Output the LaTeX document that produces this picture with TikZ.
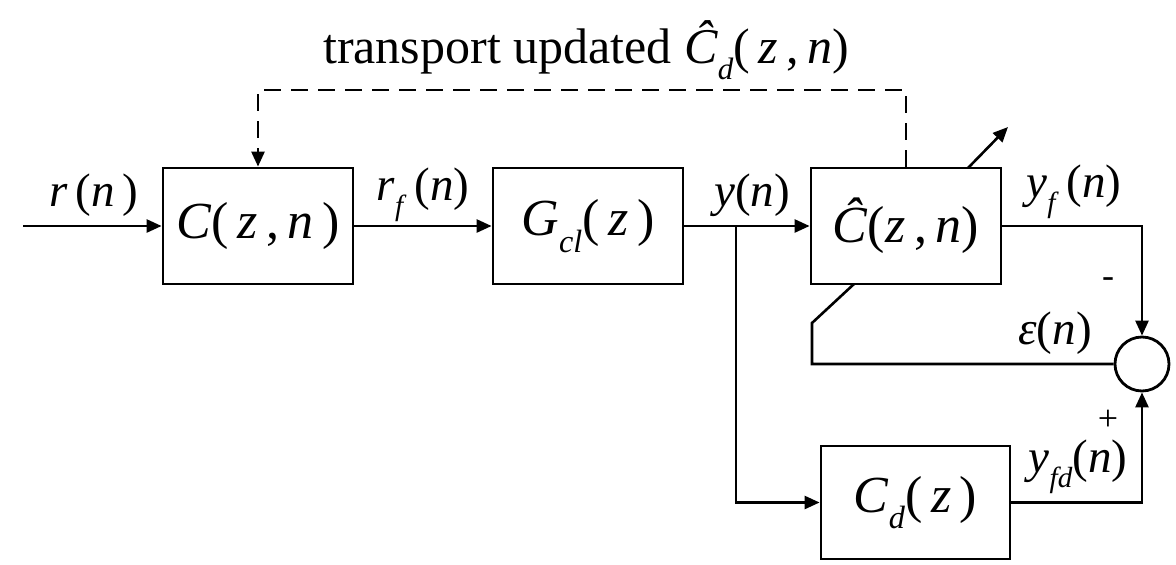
\documentclass[tikz,border=0pt]{standalone}
\usepackage{fontspec}
\setmainfont{Liberation Serif}
\usetikzlibrary{arrows.meta}
\newcommand\sbs[1]{\raisebox{-0.32em}{\fontsize{0.62em}{0.62em}\selectfont #1}}
\newcommand\iv[1]{\textit{#1}}
\begin{document}
\begin{tikzpicture}[x=1pt,y=-1pt,
  blk/.style={draw, line width=2.8pt, minimum width=190pt, minimum height=116pt, inner sep=0pt, font=\fontsize{52}{52}\selectfont},
  sig/.style={line width=2.6pt, -{Triangle[length=15pt,width=13pt]}},
  wire/.style={line width=2.6pt},
  lbl/.style={font=\fontsize{47}{47}\selectfont, inner sep=0pt},
  sgn/.style={font=\fontsize{36}{36}\selectfont, inner sep=0pt}]
\useasboundingbox (0,0) rectangle (1176,565);
% blocks
\node[blk] (C) at (258,226) {\iv{C}(\,\iv{z}\,,\,\iv{n}\,)};
\node[blk] (G) at (588,226) {\iv{G}\sbs{\iv{cl}}(\,\iv{z}\,)};
\node[blk] (Ch) at (906,226) {\iv{\^{C}}(\iv{z}\,,\,\iv{n})};
\node[blk, minimum width=189pt, minimum height=113pt] (Cd) at (915.5,502.5) {\iv{C}\sbs{\iv{d}}(\,\iv{z}\,)};
\node[draw, circle, line width=2.8pt, minimum size=54pt, inner sep=0pt] (sum) at (1142,364) {};
% coordinates
\coordinate (in) at (23,226);
\coordinate (br) at (736,226);
\coordinate (dr) at (906,90);
\coordinate (e1) at (812,364);
\coordinate (e2) at (812,323);
\coordinate (e3) at (854,284);
\coordinate (a1) at (968,168);
\coordinate (a2) at (1008,127);
% signals
\draw[sig] (in) -- (C.west);
\draw[sig] (C.east) -- (G.west);
\draw[sig] (G.east) -- (Ch.west);
\draw[sig] (br) |- (Cd.west);
\draw[sig] (Ch.east) -| (sum.north);
\draw[sig] (Cd.east) -| (sum.south);
\draw[wire] (sum.west) -- (e1) -- (e2) -- (e3);
\draw[sig] (a1) -- (a2);
\draw[line width=2.6pt, dash pattern=on 17pt off 10pt, -{Triangle[length=15pt,width=13pt]}] (Ch.north) -- (dr) -| (C.north);
% labels
\node[lbl] (lr) at (94,195) {\iv{r}\,(\iv{n}\,)};
\node[lbl] (lrf) at (423,195) {\iv{r}\sbs{\iv{f}}\,(\iv{n})};
\node[lbl] (ly) at (752,195) {\iv{y}(\iv{n})};
\node[lbl] (lyf) at (1074,192) {\iv{y}\sbs{\iv{f}}\,(\iv{n})};
\node[lbl] (le) at (1055,333) {\iv{ε}(\iv{n})};
\node[lbl] (lyfd) at (1078,467) {\iv{y}\sbs{\iv{fd}}(\iv{n})};
\node[sgn] (minus) at (1108,283) {-};
\node[sgn] (plus) at (1108,420) {+};
\node[font=\fontsize{50}{50}\selectfont, inner sep=0pt] (title) at (586,50) {transport updated \iv{\^{C}}\sbs{\iv{d}}(\,\iv{z}\,,\,\iv{n})};
\end{tikzpicture}
\end{document}
